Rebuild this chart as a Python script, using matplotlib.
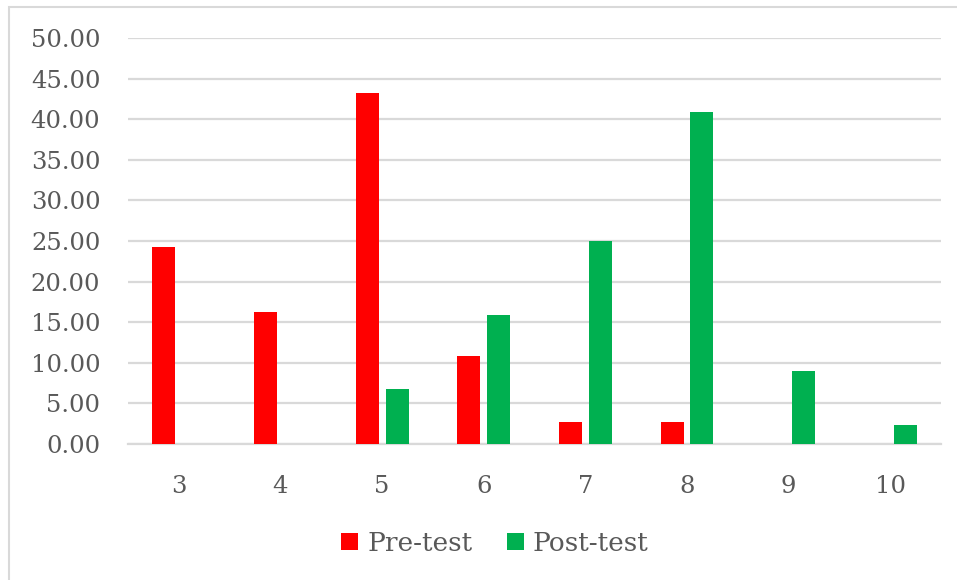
import matplotlib
matplotlib.use('Agg')
import matplotlib.pyplot as plt
from matplotlib.patches import Rectangle
import numpy as np

# data
categories = ['3', '4', '5', '6', '7', '8', '9', '10']
pre_test = [24.3, 16.2, 43.2, 10.8, 2.7, 2.7, 0, 0]
post_test = [0, 0, 6.8, 15.9, 25.0, 40.9, 9.0, 2.3]

plt.rcParams['font.family'] = ['DejaVu Serif']
text_color = '#595959'
grid_color = '#d9d9d9'

fig = plt.figure(figsize=(9.57, 5.8), dpi=100)
ax = fig.add_axes([0.1338, 0.2345, 0.8495, 0.7])

x = np.arange(len(categories))
w = 0.226
off = 0.147
ax.bar(x - off, pre_test, width=w, color='#ff0000', label='Pre-test', zorder=3)
ax.bar(x + off, post_test, width=w, color='#00b050', label='Post-test', zorder=3)

ax.set_xlim(-0.5, len(categories) - 0.5)
ax.set_ylim(0, 50)
ax.set_yticks(np.arange(0, 51, 5))
ax.set_yticklabels([f'{v:.2f}' for v in np.arange(0, 51, 5)])
ax.set_xticks(x)
ax.set_xticklabels(categories)
ax.tick_params(length=0, labelsize=17.5, colors=text_color)
ax.tick_params(axis='x', pad=22)
ax.tick_params(axis='y', pad=20)
ax.yaxis.grid(True, color=grid_color, linewidth=1.6, zorder=0)
for s in ['top', 'right', 'left']:
    ax.spines[s].set_visible(False)
ax.spines['bottom'].set_color(grid_color)
ax.spines['bottom'].set_linewidth(1.6)

leg = fig.legend(loc='center', bbox_to_anchor=(0.517, 0.063), ncol=2, frameon=False,
                 fontsize=19, handlelength=0.65, handleheight=0.65, handletextpad=0.35,
                 columnspacing=1.3)
for t in leg.get_texts():
    t.set_color(text_color)

# outer chart border
fig.patches.append(Rectangle((0.0095, -0.01), 1.2, 0.998, transform=fig.transFigure,
                             fill=False, edgecolor=grid_color, linewidth=1.5))

fig.savefig('out.png', dpi=100)
